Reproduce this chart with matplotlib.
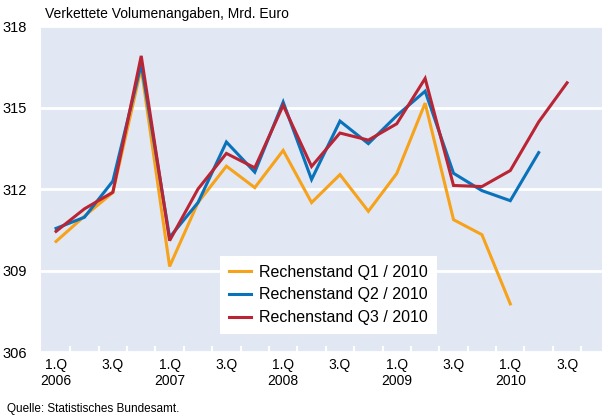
import matplotlib
matplotlib.use("Agg")
import matplotlib.pyplot as plt
from matplotlib.ticker import FixedLocator
import numpy as np

plt.rcParams['font.family'] = ['Liberation Sans', 'DejaVu Sans']

quarters = ["2006Q1", "2006Q2", "2006Q3", "2006Q4",
            "2007Q1", "2007Q2", "2007Q3", "2007Q4",
            "2008Q1", "2008Q2", "2008Q3", "2008Q4",
            "2009Q1", "2009Q2", "2009Q3", "2009Q4",
            "2010Q1", "2010Q2", "2010Q3", "2010Q4"]

q1_2010 = [310.07, 311.0, 311.87, 316.45,
           309.15, 311.5, 312.84, 312.05,
           313.42, 311.5, 312.53, 311.18,
           312.57, 315.16, 310.87, 310.32,
           307.77]
q2_2010 = [310.55, 310.96, 312.29, 316.6,
           310.22, 311.5, 313.73, 312.62,
           315.2, 312.35, 314.5, 313.67,
           314.7, 315.6, 312.58, 311.94,
           311.57, 313.34]
q3_2010 = [310.44, 311.27, 311.88, 316.9,
           310.1, 312.0, 313.31, 312.78,
           315.08, 312.83, 314.06, 313.8,
           314.4, 316.07, 312.13, 312.09,
           312.68, 314.47, 315.91]

series_labels = ["Rechenstand Q1 / 2010", "Rechenstand Q2 / 2010", "Rechenstand Q3 / 2010"]
colors = ["#F7A21B", "#0A72BA", "#B92535"]

tick_labels = ["1.Q\n2006", "3.Q", "1.Q\n2007", "3.Q", "1.Q\n2008", "3.Q",
               "1.Q\n2009", "3.Q", "1.Q\n2010", "3.Q"]
y_ticks = [306, 309, 312, 315, 318]

fig = plt.figure(figsize=(6.02, 4.19), dpi=100)
ax = fig.add_axes([41/602, 1-352/419, 1-41/602, (352-26)/419])
ax.set_facecolor("#E1E8F4")
for s in ax.spines.values():
    s.set_visible(False)

x = np.arange(len(quarters))
for vals, c, lab in zip([q1_2010, q2_2010, q3_2010], colors, series_labels):
    ax.plot(x[:len(vals)], vals, color=c, lw=2.2, label=lab, solid_joinstyle='miter')

ax.set_ylim(306, 318)
ax.set_xlim(-0.53, 19.23)
ax.set_yticks(y_ticks)
ax.set_yticklabels([str(v) for v in y_ticks], fontsize=10.5)
ax.yaxis.grid(True, color="white", lw=2)
ax.set_axisbelow(True)
ax.tick_params(axis='y', length=0, pad=10)

ax.set_xticks(x[::2])
ax.set_xticklabels(tick_labels, fontsize=10, linespacing=1.25)
ax.tick_params(axis='x', which='major', length=0, pad=4)
ax.xaxis.set_minor_locator(FixedLocator(np.arange(0.5, 19, 1.0)))
ax.tick_params(axis='x', which='minor', direction='in', length=4.5, width=1.5, color='white')

leg = ax.legend(loc='upper left', bbox_to_anchor=((220-41)/561, 1-(256-26)/326),
                borderaxespad=0,
                fontsize=11.5, frameon=True, fancybox=False, framealpha=1,
                edgecolor='white', facecolor='white', handlelength=1.4,
                handletextpad=0.5, borderpad=0.55, labelspacing=0.48)
leg.get_frame().set_linewidth(0)

fig.text(45/602, 1-14/419, "Verkettete Volumenangaben, Mrd. Euro", fontsize=10,
         va='center', ha='left')
fig.text(7/602, 1-409/419, "Quelle: Statistisches Bundesamt.", fontsize=8.5,
         va='center', ha='left')

fig.savefig("out.png", dpi=100)
